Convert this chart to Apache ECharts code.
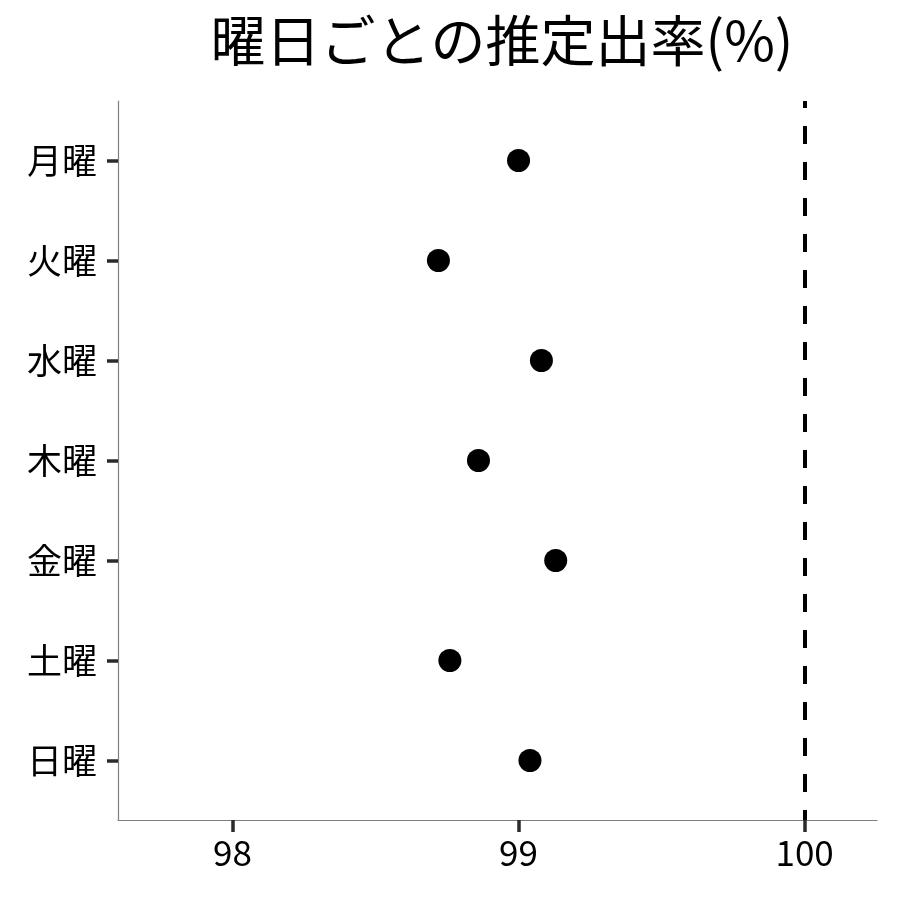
<!DOCTYPE html>
<html>
<head>
<meta charset="utf-8">
<script src="https://cdn.jsdelivr.net/npm/echarts@6/dist/echarts.min.js"></script>
<style>
html,body{margin:0;padding:0;background:#fff;}
#chart{width:900px;height:900px;}
</style>
</head>
<body>
<div id="chart"></div>
<script>
const titleText = '曜日ごとの推定出率(%)';
const days = ['月曜', '火曜', '水曜', '木曜', '金曜', '土曜', '日曜'];
const rates = [99.00, 98.72, 99.08, 98.86, 99.13, 98.76, 99.04];
const xTicks = [98, 99, 100];
const refValue = 100;

const positions = days.map((d, i) => i + 1);
const points = rates.map((v, i) => [v, positions[i]]);
const FONT = '"Noto Sans CJK JP", "Noto Sans", sans-serif';

const chart = echarts.init(document.getElementById('chart'), null, {renderer: 'canvas'});
chart.setOption({
  animation: false,
  backgroundColor: '#ffffff',
  title: {
    text: titleText,
    left: 497, top: 8, textAlign: 'center',
    textStyle: {fontFamily: FONT, fontSize: 55, fontWeight: 'normal', color: '#000'}
  },
  grid: {left: 118, right: 23, top: 101, bottom: 80, containLabel: false},
  xAxis: {
    type: 'value', min: 97.6, max: 100.253, position: 'bottom',
    axisLine: {show: true, onZero: false, lineStyle: {color: '#7f7f7f', width: 1.2}},
    axisTick: {show: true, length: 12, customValues: xTicks, lineStyle: {color: '#2b2b2b', width: 3.5}},
    axisLabel: {customValues: xTicks, margin: 15, fontFamily: FONT, fontSize: 35, color: '#000'},
    splitLine: {show: false}
  },
  yAxis: {
    type: 'value', min: 0.405, max: 7.595, inverse: true,
    axisLine: {show: true, onZero: false, lineStyle: {color: '#7f7f7f', width: 1.2}},
    axisTick: {show: true, length: 11, customValues: positions, lineStyle: {color: '#2b2b2b', width: 3.5}},
    axisLabel: {customValues: positions, margin: 21, fontFamily: FONT, fontSize: 35, color: '#000',
      formatter: v => days[Math.round(v) - 1] || ''},
    splitLine: {show: false}
  },
  series: [{
    type: 'scatter',
    data: points,
    symbol: 'circle',
    symbolSize: 23,
    itemStyle: {color: '#000', opacity: 1},
    markLine: {
      silent: true,
      symbol: ['none', 'none'],
      label: {show: false},
      lineStyle: {color: '#000', width: 4, type: [18, 18], dashOffset: 11},
      data: [{xAxis: refValue}]
    }
  }]
});
</script>
</body>
</html>
